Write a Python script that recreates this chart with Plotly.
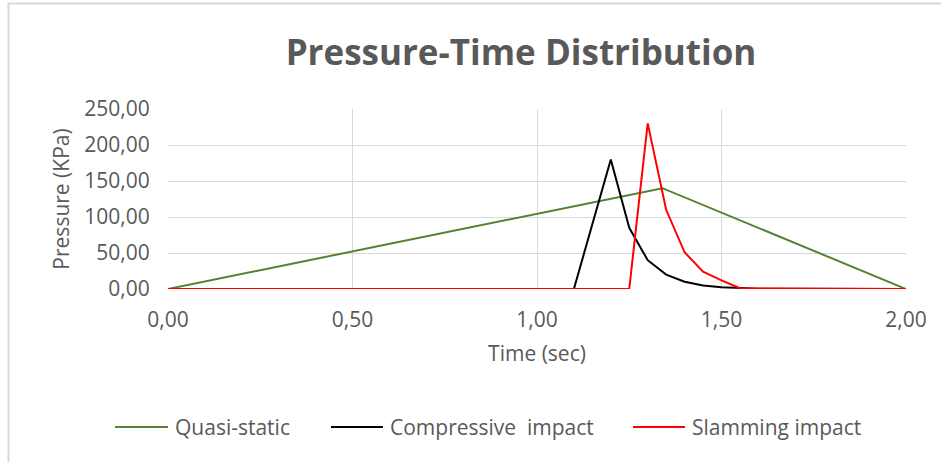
import plotly.graph_objects as go

# Data
time_quasi = [0.0, 1.34, 2.0]
p_quasi = [0.0, 140.0, 0.0]

time_comp = [0.0, 1.10, 1.20, 1.25, 1.30, 1.35, 1.40, 1.45, 1.50, 1.55, 1.60, 2.0]
p_comp = [0.0, 0.0, 180.0, 85.0, 40.0, 20.0, 10.0, 5.0, 2.5, 1.2, 0.5, 0.0]

time_slam = [0.0, 1.25, 1.30, 1.35, 1.40, 1.45, 1.50, 1.55, 2.0]
p_slam = [0.0, 0.0, 230.0, 110.0, 51.0, 24.0, 12.0, 1.0, 0.0]

series_names = ["Quasi-static", "Compressive  impact", "Slamming impact"]
series_colors = ["#548235", "#000000", "#ff0000"]

x_ticks = [0.0, 0.5, 1.0, 1.5, 2.0]
y_ticks = [0, 50, 100, 150, 200, 250]

FONT = "Open Sans"
GREY = "#595959"

W, H = 941, 462
L, R, T, B = 168, 906, 109, 289  # plot area pixel box


def px_x(p):
    return (p - L) / (R - L)


def px_y(p):
    return (B - p) / (B - T)


fig = go.Figure()
for xs, ys, nm, col in zip([time_quasi, time_comp, time_slam],
                           [p_quasi, p_comp, p_slam], series_names, series_colors):
    fig.add_trace(go.Scatter(x=xs, y=ys, mode="lines", name=nm,
                             line=dict(color=col, width=2)))

fig.update_layout(
    width=W, height=H,
    margin=dict(l=L, r=W - R, t=T, b=H - B),
    paper_bgcolor="white", plot_bgcolor="white",
    separators=", ",
    font=dict(family=FONT, color=GREY, size=20),
    title=dict(text="<b>Pressure-Time Distribution</b>", x=px_x(521), xanchor="center",
               y=1 - 53 / H, yanchor="middle", xref="paper",
               font=dict(family=FONT, size=35, color=GREY)),
    showlegend=False,
    xaxis=dict(range=[0, 2.0], tickvals=x_ticks, tickformat=".2f",
               showgrid=True, gridcolor="#d9d9d9", gridwidth=1.3,
               zeroline=False, showline=False,
               ticks="outside", ticklen=12, tickcolor="rgba(0,0,0,0)",
               tickfont=dict(family=FONT, size=21, color=GREY),
               title=dict(text="Time (sec)", font=dict(family=FONT, size=21, color=GREY), standoff=14)),
    yaxis=dict(range=[0, 250], tickvals=y_ticks, tickformat=".2f",
               showgrid=True, gridcolor="#d9d9d9", gridwidth=1.3,
               zeroline=False, showline=False,
               ticks="outside", ticklen=13, tickcolor="rgba(0,0,0,0)",
               tickfont=dict(family=FONT, size=21, color=GREY),
               title=dict(text="Pressure (KPa)", font=dict(family=FONT, size=21, color=GREY), standoff=8)),
)

# chart-area border (light grey frame)
fig.add_shape(type="rect", xref="paper", yref="paper",
              x0=px_x(8.5), x1=px_x(960), y0=px_y(480), y1=px_y(3.5),
              line=dict(color="#d9d9d9", width=2), fillcolor="rgba(0,0,0,0)", layer="below")

# legend (drawn below the plot, Excel style with long line swatches)
legend_line_x = [(115, 168), (331, 383), (633, 685)]
legend_y = 427
for (a, b), nm, col in zip(legend_line_x, series_names, series_colors):
    fig.add_shape(type="line", xref="paper", yref="paper",
                  x0=px_x(a), x1=px_x(b), y0=px_y(legend_y), y1=px_y(legend_y),
                  line=dict(color=col, width=2))
    fig.add_annotation(xref="paper", yref="paper", x=px_x(b + 5), y=px_y(legend_y),
                       xanchor="left", yanchor="middle", showarrow=False, text=nm,
                       font=dict(family=FONT, size=21, color=GREY))

fig.write_html("out.html")
